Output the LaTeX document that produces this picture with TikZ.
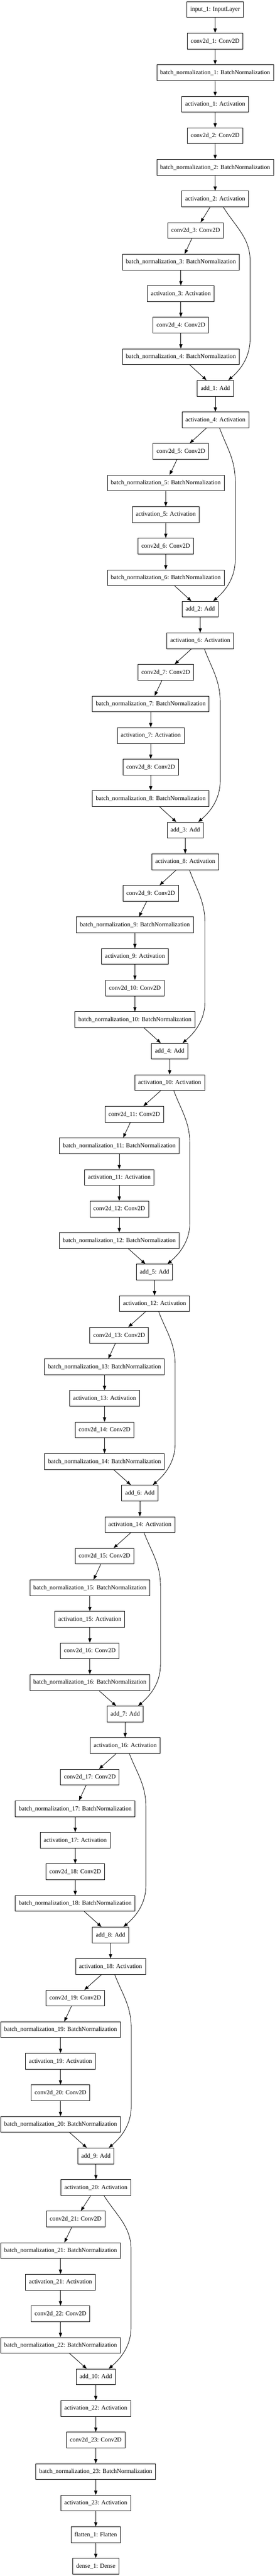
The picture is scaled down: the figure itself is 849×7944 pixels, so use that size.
\documentclass[tikz,border=0pt]{standalone}
\usepackage{fontspec}
\setmainfont{Liberation Serif}
\usetikzlibrary{arrows.meta,calc}

\tikzset{
  layer/.style={draw,line width=1pt,minimum height=36pt,inner xsep=7.9pt,inner ysep=0pt,font=\fontsize{14}{17}\selectfont},
  conn/.style={line width=1pt,-{Triangle[length=10pt,width=7.4pt]}},
}

\begin{document}
\begin{tikzpicture}[x=0.7397pt,y=-0.7397pt]
  \useasboundingbox (0,0) rectangle (849,7944);
  % 入力層から activation_2 まで
  \node[layer] (in1) at (665,29.35) {input\_1: InputLayer};
  \node[layer] (conv1) at (665,126.69) {conv2d\_1: Conv2D};
  \node[layer] (bn1) at (665,224.03) {batch\_normalization\_1: BatchNormalization};
  \node[layer] (act1) at (665,321.37) {activation\_1: Activation};
  \node[layer] (conv2) at (665,418.71) {conv2d\_2: Conv2D};
  \node[layer] (bn2) at (665,516.05) {batch\_normalization\_2: BatchNormalization};
  \node[layer] (act2) at (665,613.39) {activation\_2: Activation};
  \foreach \a/\b in {in1/conv1,conv1/bn1,bn1/act1,act1/conv2,conv2/bn2,bn2/act2}
    \draw[conn] (\a)--(\b);
  % 残差ブロック (k, 入力x, convのx, 左列x, addのx, 迂回線x, 出発ずれ)
  \foreach \k/\xa/\xc/\xb/\xd/\xv/\ds in {
      1/665/604.6/559/665.7/773/25,
      2/665.7/559/512.4/618.8/727/13,
      3/618.8/512.4/465.9/572.5/680.6/13,
      4/572.5/465.9/417/524.4/633.5/13,
      5/524.4/415/368.6/477.6/586.9/13,
      6/477.6/368.4/323.1/432.3/541.4/13,
      7/432.3/323/277.7/386.9/496/13,
      8/386.9/277.8/232.5/341.7/451/13,
      9/341.7/232.5/187/296.4/405.5/13,
      10/296.4/233.9/187/296/405/25}{
    \pgfmathtruncatemacro\ia{2*\k}
    \pgfmathtruncatemacro\ib{2*\k+1}
    \pgfmathtruncatemacro\ic{2*\k+2}
    \pgfmathsetmacro\y{29.35+97.34*7*\k}
    \node[layer] (conv\ib) at (\xc,\y) {conv2d\_\ib: Conv2D};
    \node[layer] (bn\ib) at (\xb,\y+97.34) {batch\_normalization\_\ib: BatchNormalization};
    \node[layer] (act\ib) at (\xb,\y+194.68) {activation\_\ib: Activation};
    \node[layer] (conv\ic) at (\xb,\y+292.02) {conv2d\_\ic: Conv2D};
    \node[layer] (bn\ic) at (\xb,\y+389.36) {batch\_normalization\_\ic: BatchNormalization};
    \node[layer] (add\k) at (\xd,\y+486.7) {add\_\k: Add};
    \node[layer] (act\ic) at (\xd,\y+584.04) {activation\_\ic: Activation};
    \draw[conn] (act\ia)--(conv\ib);
    \draw[conn] (conv\ib)--(bn\ib);
    \draw[conn] (bn\ib)--(act\ib);
    \draw[conn] (act\ib)--(conv\ic);
    \draw[conn] (conv\ic)--(bn\ic);
    \draw[conn] (bn\ic)--(add\k);
    \draw[conn] (add\k)--(act\ic);
    % 迂回線
    \draw[conn] ($(act\ia.south)+(\ds,0)$) .. controls +({0.45*(\xv-\xa-\ds)},60) and (\xv,\y+22.66) .. (\xv,\y+92.66)
      -- (\xv,\y+333.66) .. controls (\xv,\y+393.66) and ($(add\k.north)+(75,-30)$) .. ($(add\k.north)+(40,0)$);
  }
  % 出力側
  \node[layer] (conv23) at (296,7524.53) {conv2d\_23: Conv2D};
  \node[layer] (bn23) at (296,7621.87) {batch\_normalization\_23: BatchNormalization};
  \node[layer] (act23) at (296,7719.21) {activation\_23: Activation};
  \node[layer] (flat1) at (296,7816.55) {flatten\_1: Flatten};
  \node[layer] (dense1) at (296,7913.89) {dense\_1: Dense};
  \foreach \a/\b in {act22/conv23,conv23/bn23,bn23/act23,act23/flat1,flat1/dense1}
    \draw[conn] (\a)--(\b);
\end{tikzpicture}
\end{document}
